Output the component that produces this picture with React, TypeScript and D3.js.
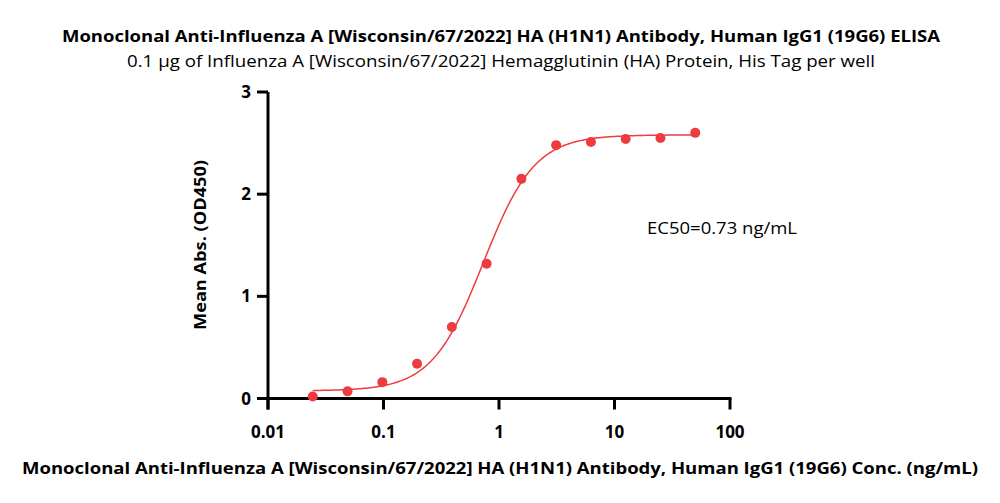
import React from "react";
import * as d3 from "d3";

const concentrations = [0.0244, 0.0488, 0.0977, 0.1953, 0.3906, 0.7813, 1.5625, 3.125, 6.25, 12.5, 25, 50];
const meanAbs = [0.02, 0.07, 0.16, 0.34, 0.70, 1.32, 2.15, 2.48, 2.51, 2.54, 2.55, 2.60];
const xTicks = [0.01, 0.1, 1, 10, 100];
const xTickLabels = ["0.01", "0.1", "1", "10", "100"];
const yTicks = [0, 1, 2, 3];
// 4PL fit parameters (bottom, top, EC50, hill slope)
const fitBottom = 0.075;
const fitTop = 2.58;
const fitEC50 = 0.73;
const fitHill = 1.95;

const title = "Monoclonal Anti-Influenza A [Wisconsin/67/2022] HA (H1N1) Antibody, Human IgG1 (19G6) ELISA";
const subtitle = "0.1 µg of Influenza A [Wisconsin/67/2022] Hemagglutinin (HA) Protein, His Tag per well";
const xTitle = "Monoclonal Anti-Influenza A [Wisconsin/67/2022] HA (H1N1) Antibody, Human IgG1 (19G6) Conc. (ng/mL)";
const yTitle = "Mean Abs. (OD450)";
const ec50Label = "EC50=0.73 ng/mL";

const RED = "#ee3b3f";
const FONT = "'Open Sans', sans-serif";

export default function App() {
  const x = d3.scaleLog().domain([0.01, 100]).range([268, 730]);
  const y = d3.scaleLinear().domain([0, 3]).range([398.5, 92]);

  const fit = (c: number) => fitBottom + (fitTop - fitBottom) / (1 + Math.pow(fitEC50 / c, fitHill));
  const lx0 = Math.log10(concentrations[0]);
  const lx1 = Math.log10(concentrations[concentrations.length - 1]);
  const curvePts: [number, number][] = d3.range(0, 201).map((i) => {
    const c = Math.pow(10, lx0 + ((lx1 - lx0) * i) / 200);
    return [x(c), y(fit(c))];
  });
  const line = d3.line().curve(d3.curveLinear);

  const x0 = x(0.01);
  const y0 = y(0);

  return (
    <svg width={1000} height={503} style={{ position: "absolute", left: 0, top: 0, background: "#fff" }}>
      <rect width={1000} height={503} fill="#fff" />
      <text x={501} y={42} textAnchor="middle" fontFamily={FONT} fontWeight="bold" fontSize={16} textLength={878} lengthAdjust="spacingAndGlyphs">{title}</text>
      <text x={501} y={67} textAnchor="middle" fontFamily={FONT} fontSize={16} textLength={748} lengthAdjust="spacingAndGlyphs">{subtitle}</text>

      {/* axes */}
      <line x1={x0} x2={x0} y1={y(3)} y2={y0 + 11} stroke="#000" strokeWidth={3} />
      <line x1={x0 - 1.5} x2={730 + 1.5} y1={y0} y2={y0} stroke="#000" strokeWidth={3} />
      {yTicks.map((t) => (
        <g key={"y" + t}>
          <line x1={x0 - 11} x2={x0} y1={y(t)} y2={y(t)} stroke="#000" strokeWidth={3} />
          <text x={251} y={y(t) + 6} textAnchor="end" fontFamily={FONT} fontWeight="bold" fontSize={17}>{t}</text>
        </g>
      ))}
      {xTicks.map((t, i) => (
        <g key={"x" + t}>
          <line x1={x(t)} x2={x(t)} y1={y0} y2={y0 + 11} stroke="#000" strokeWidth={3} />
          <text x={x(t)} y={438} textAnchor="middle" fontFamily={FONT} fontWeight="bold" fontSize={17}>{xTickLabels[i]}</text>
        </g>
      ))}

      <text transform="translate(206,245) rotate(-90)" textAnchor="middle" fontFamily={FONT} fontWeight="bold" fontSize={16} textLength={170} lengthAdjust="spacingAndGlyphs">{yTitle}</text>
      <text x={500} y={474} textAnchor="middle" fontFamily={FONT} fontWeight="bold" fontSize={16} textLength={956} lengthAdjust="spacingAndGlyphs">{xTitle}</text>

      <path d={line(curvePts) || ""} fill="none" stroke={RED} strokeWidth={1.5} />
      {concentrations.map((c, i) => (
        <circle key={i} cx={x(c)} cy={y(meanAbs[i])} r={5} fill={RED} />
      ))}

      <text x={647} y={234} fontFamily={FONT} fontSize={16} textLength={150} lengthAdjust="spacingAndGlyphs">{ec50Label}</text>
    </svg>
  );
}
